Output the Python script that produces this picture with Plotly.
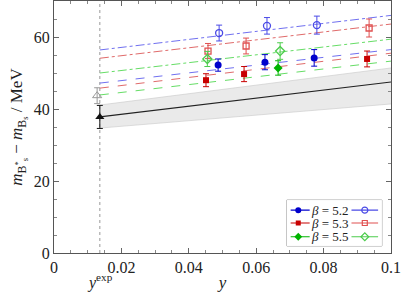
import plotly.graph_objects as go

# ---------------- data ----------------
y_exp = 0.0136
y_max = 0.1

# physical point (black) and open gray reference
phys_x = [0.0136]
phys_val = [37.8]
phys_err = [3.2]
ref_x = [0.0128]
ref_val = [43.7]
ref_err = [2.2]

# band and central line
band_x = [0.0136, 0.1]
band_lo = [34.7, 41.4]
band_hi = [41.1, 51.4]
fit_x = [0.0136, 0.1]
fit_val = [37.8, 47.5]

# beta = 5.2
b52_filled_x = [0.0487, 0.0626, 0.0772]
b52_filled_v = [52.2, 53.0, 54.2]
b52_filled_e = [1.7, 2.1, 2.3]
b52_open_x = [0.0490, 0.0632, 0.0780]
b52_open_v = [61.1, 63.1, 63.3]
b52_open_e = [2.2, 2.3, 2.5]
# beta = 5.3
b53_filled_x = [0.0451, 0.0564, 0.0929]
b53_filled_v = [48.0, 49.7, 53.9]
b53_filled_e = [1.8, 2.1, 2.2]
b53_open_x = [0.0457, 0.0570, 0.0935]
b53_open_v = [56.1, 57.5, 62.5]
b53_open_e = [2.1, 2.2, 2.5]
# beta = 5.5
b55_filled_x = [0.0665]
b55_filled_v = [51.4]
b55_filled_e = [2.0]
b55_open_x = [0.0455, 0.0671]
b55_open_v = [53.9, 56.1]
b55_open_e = [2.1, 2.3]

# fit lines (value at y_exp, value at y_max)
lines_filled = {"5.2": [47.2, 56.5], "5.3": [45.8, 55.5], "5.5": [43.9, 53.3]}
lines_open = {"5.2": [56.4, 66.0], "5.3": [54.1, 63.6], "5.5": [50.0, 59.4]}

betas = ["5.2", "5.3", "5.5"]
col_filled = {"5.2": "#0000cc", "5.3": "#c80000", "5.5": "#00b400"}
col_open = {"5.2": "#4a4ae6", "5.3": "#e05050", "5.5": "#4ccc4c"}
col_line_f = {"5.2": "#7070f0", "5.3": "#e06a6a", "5.5": "#66dd66"}
sym = {"5.2": "circle", "5.3": "square", "5.5": "diamond"}
msize = {"5.2": 7, "5.3": 6, "5.5": 7}

filled = {"5.2": (b52_filled_x, b52_filled_v, b52_filled_e),
          "5.3": (b53_filled_x, b53_filled_v, b53_filled_e),
          "5.5": (b55_filled_x, b55_filled_v, b55_filled_e)}
opened = {"5.2": (b52_open_x, b52_open_v, b52_open_e),
          "5.3": (b53_open_x, b53_open_v, b53_open_e),
          "5.5": (b55_open_x, b55_open_v, b55_open_e)}

FONT = "Liberation Serif"

fig = go.Figure()

# band
fig.add_trace(go.Scatter(x=band_x, y=band_lo, mode="lines", line=dict(width=0.6, color="#c8c8c8"),
                         showlegend=False, hoverinfo="skip"))
fig.add_trace(go.Scatter(x=band_x, y=band_hi, mode="lines", line=dict(width=0.6, color="#c8c8c8"),
                         fill="tonexty", fillcolor="rgba(220,220,220,0.6)", showlegend=False, hoverinfo="skip"))
fig.add_trace(go.Scatter(x=fit_x, y=fit_val, mode="lines", line=dict(width=1.1, color="#222222"),
                         showlegend=False))

# fit lines
for b in betas:
    fig.add_trace(go.Scatter(x=[y_exp, y_max], y=lines_filled[b], mode="lines",
                             line=dict(width=1, color=col_line_f[b], dash="dash"), showlegend=False))
    fig.add_trace(go.Scatter(x=[y_exp, y_max], y=lines_open[b], mode="lines",
                             line=dict(width=1, color=col_line_f[b], dash="dashdot"), showlegend=False))

# data points
for b in betas:
    x, v, e = opened[b]
    fig.add_trace(go.Scatter(x=x, y=v, mode="markers",
                             error_y=dict(type="data", array=e, color=col_open[b], thickness=1, width=3),
                             marker=dict(symbol=sym[b] + "-open", size=msize[b], color=col_open[b],
                                         line=dict(width=1.3, color=col_open[b])),
                             showlegend=False))
    x, v, e = filled[b]
    fig.add_trace(go.Scatter(x=x, y=v, mode="markers",
                             error_y=dict(type="data", array=e, color=col_filled[b], thickness=1, width=3),
                             marker=dict(symbol=sym[b], size=msize[b], color=col_filled[b]),
                             showlegend=False))

fig.add_trace(go.Scatter(x=ref_x, y=ref_val, mode="markers",
                         error_y=dict(type="data", array=ref_err, color="#9a9a9a", thickness=1, width=3),
                         marker=dict(symbol="triangle-up-open", size=8, color="#9a9a9a",
                                     line=dict(width=1, color="#9a9a9a")),
                         showlegend=False))
fig.add_trace(go.Scatter(x=phys_x, y=phys_val, mode="markers",
                         error_y=dict(type="data", array=phys_err, color="#111111", thickness=1, width=3),
                         marker=dict(symbol="triangle-up", size=8, color="#111111"),
                         showlegend=False))

# vertical dotted line at y_exp
fig.add_shape(type="line", xref="x", yref="paper", x0=y_exp, x1=y_exp, y0=0, y1=1,
              line=dict(color="#999999", width=1, dash="dot"), layer="below")

# ----- custom legend (overlay axes) -----
leg_x0, leg_x1 = 0.691, 0.973
leg_y0, leg_y1 = 0.028, 0.210
fig.add_shape(type="rect", xref="paper", yref="paper", x0=leg_x0, x1=leg_x1, y0=leg_y0, y1=leg_y1,
              line=dict(color="#9a9a9a", width=1), fillcolor="white", layer="below")
rows = {"5.2": 0.78, "5.3": 0.50, "5.5": 0.20}
for b in betas:
    r = rows[b]
    fig.add_trace(go.Scatter(x=[0.04, 0.24], y=[r, r], mode="lines",
                             xaxis="x2", yaxis="y2", line=dict(color=col_filled[b], width=1.1),
                             showlegend=False, hoverinfo="skip"))
    fig.add_trace(go.Scatter(x=[0.12], y=[r], mode="markers",
                             xaxis="x2", yaxis="y2",
                             marker=dict(symbol=sym[b], size=msize[b] - 1, color=col_filled[b]),
                             showlegend=False, hoverinfo="skip"))
    fig.add_trace(go.Scatter(x=[0.68, 0.96], y=[r, r], mode="lines",
                             xaxis="x2", yaxis="y2", line=dict(color=col_open[b], width=1.1),
                             showlegend=False, hoverinfo="skip"))
    fig.add_trace(go.Scatter(x=[0.82], y=[r], mode="markers",
                             xaxis="x2", yaxis="y2",
                             marker=dict(symbol=sym[b] + "-open", size=msize[b] - 1, color=col_open[b],
                                         line=dict(width=1.2, color=col_open[b])),
                             showlegend=False, hoverinfo="skip"))
    fig.add_annotation(xref="x2", yref="y2", x=0.455, y=r, text="<i>β</i> = " + b, showarrow=False,
                       font=dict(family=FONT, size=13, color="#222"), xanchor="center", yanchor="middle")

fig.add_annotation(xref="x", yref="paper", x=y_exp, y=-0.065, text="<i>y</i><sup>exp</sup>",
                   showarrow=False, yanchor="top", font=dict(family=FONT, size=16, color="#222"))

tickfont = dict(family=FONT, size=16, color="#222")
fig.update_layout(
    width=408, height=295,
    margin=dict(l=54, r=17, t=1, b=42),
    paper_bgcolor="white", plot_bgcolor="white",
    font=dict(family=FONT, color="#222"),
    xaxis=dict(range=[0, 0.1], tickvals=[0, 0.02, 0.04, 0.06, 0.08, 0.1],
               ticktext=["0", "0.02", "0.04", "0.06", "0.08", "0.1"],
               ticks="inside", ticklen=5, tickcolor="#666", mirror="allticks", automargin=False,
               showline=True, linecolor="#555", linewidth=1.2, showgrid=False, zeroline=False,
               minor=dict(dtick=0.005, ticks="inside", ticklen=3, tickcolor="#888", showgrid=False),
               tickfont=tickfont,
               title=dict(text="<i>y</i>", font=dict(family=FONT, size=17), standoff=0)),
    yaxis=dict(range=[0, 70], tickvals=[0, 20, 40, 60],
               ticks="inside", ticklen=5, tickcolor="#666", mirror="allticks", automargin=False,
               showline=True, linecolor="#555", linewidth=1.2, showgrid=False, zeroline=False,
               minor=dict(dtick=5, ticks="inside", ticklen=3, tickcolor="#888", showgrid=False),
               tickfont=tickfont,
               title=dict(text="<i>m</i><sub>B<sup>*</sup><sub>s</sub></sub> − <i>m</i><sub>B<sub>s</sub></sub> / MeV",
                          font=dict(family=FONT, size=17), standoff=6)),
    xaxis2=dict(domain=[leg_x0, leg_x1], range=[0, 1], anchor="y2", visible=False, fixedrange=True),
    yaxis2=dict(domain=[leg_y0, leg_y1], range=[0, 1], anchor="x2", visible=False, fixedrange=True),
    showlegend=False,
)

fig.write_html("out.html", config={"displayModeBar": False},
               post_script="document.body.style.margin='0';document.body.style.overflow='hidden';")
